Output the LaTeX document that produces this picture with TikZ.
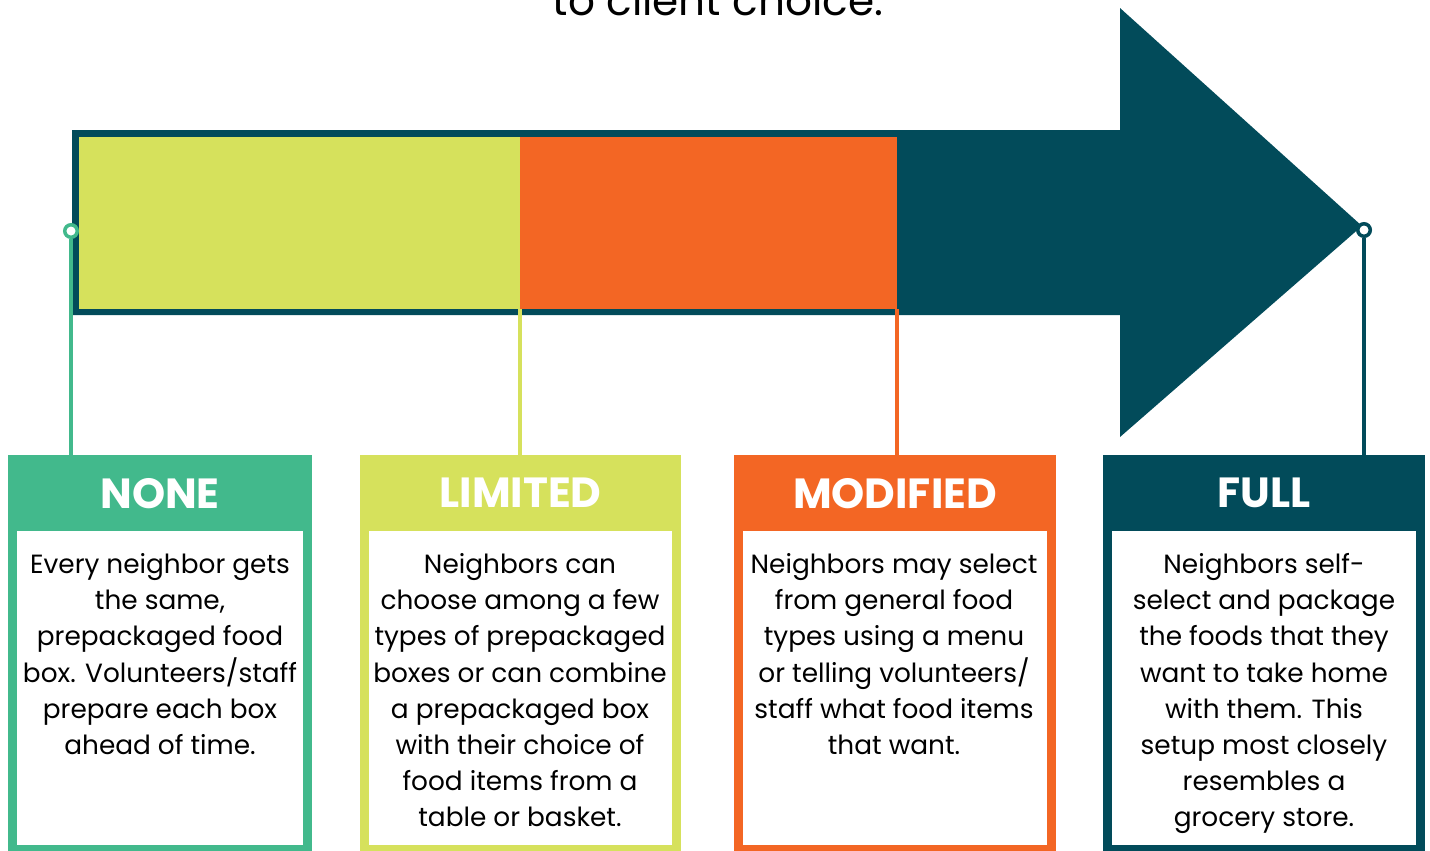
\documentclass[tikz,border=0pt]{standalone}
\usepackage{fontspec}
\setmainfont{Poppins}
\definecolor{choicegreen}{RGB}{66,185,140}
\definecolor{choicelime}{RGB}{214,225,92}
\definecolor{choiceorange}{RGB}{243,102,36}
\definecolor{choiceteal}{RGB}{2,75,90}

\tikzset{
  pin/.style={circle,draw=#1,line width=2pt,fill=white,inner sep=0pt,minimum size=0.25cm},
  stem/.style={#1,line width=2.3pt},
  cardhead/.style={fill=#1,text=white,font=\fontsize{24}{26}\selectfont\bfseries,
    minimum height=1.52cm,inner sep=0pt,text depth=-2.8pt},
  cardtext/.style={anchor=north,align=center,inner sep=0pt,
    font=\fontsize{15}{20.6}\selectfont}
}

\begin{document}
\begin{tikzpicture}[x=0.02cm,y=-0.02cm]
 \useasboundingbox (0,0) rectangle (1430,850);
 \node[anchor=base,font=\fontsize{24}{28}\selectfont] (title) at (718,15) {to client choice:};

 % the big arrow and its coloured stages
 \fill[choiceteal] (72,130) -- (1120,130) -- (1120,8) -- (1362,226)
   -- (1120,437) -- (1120,315) -- (72,315) -- cycle;
 \fill[choicelime] (79,137) rectangle (520,309);
 \fill[choiceorange] (520,137) rectangle (897,309);

 % frames of the four cards
 \foreach \xl/\xr/\col in {8/312/choicegreen,360/681/choicelime,
     734/1056/choiceorange,1103/1425/choiceteal}
   {\fill[\col] (\xl,455) rectangle (\xr,860);
    \fill[white] (\xl+9,531) rectangle (\xr-9,845);}

 \node[cardhead=choicegreen,minimum width=6.08cm] (none) at (160,493) {NONE};
 \node[cardhead=choicelime,minimum width=6.42cm] (limited) at (520.5,493) {LIMITED};
 \node[cardhead=choiceorange,minimum width=6.44cm] (modified) at (895,493) {MODIFIED};
 \node[cardhead=choiceteal,minimum width=6.44cm] (full) at (1264,493) {FULL};

 \node[cardtext] (none-txt) at (160,553) {Every neighbor gets\\ the same,\\ prepackaged food\\
   box. Volunteers/staff\\ prepare each box\\ ahead of time.};
 \node[cardtext] (limited-txt) at (520,553) {Neighbors can\\ choose among a few\\
   types of prepackaged\\ boxes or can combine\\ a prepackaged box\\ with their choice of\\
   food items from a\\ table or basket.};
 \node[cardtext] (modified-txt) at (894,553) {Neighbors may select\\ from general food\\
   types using a menu\\ or telling volunteers/\\ staff what food items\\ that want.};
 \node[cardtext] (full-txt) at (1264,553) {Neighbors self-\\ select and package\\
   the foods that they\\ want to take home\\ with them. This\\ setup most closely\\
   resembles a\\ grocery store.};

 % pins joining the arrow to the cards
 \coordinate (lim-pin) at (520,309);
 \coordinate (mod-pin) at (897,309);
 \draw[stem=choicelime] (lim-pin) -- (lim-pin |- limited.north);
 \draw[stem=choiceorange] (mod-pin) -- (mod-pin |- modified.north);
 \node[pin=choicegreen] (none-pin) at (71,231) {};
 \node[pin=choiceteal] (full-pin) at (1364,230) {};
 \draw[stem=choicegreen] (none-pin.south) -- (none-pin.south |- none.north);
 \draw[stem=choiceteal] (full-pin.south) -- (full-pin.south |- full.north);
\end{tikzpicture}
\end{document}
